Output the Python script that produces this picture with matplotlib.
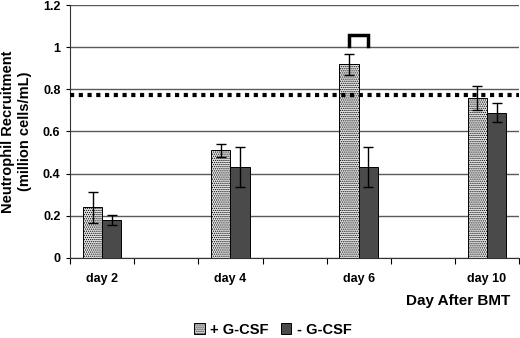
import numpy as np
import matplotlib
matplotlib.use('Agg')
import matplotlib.pyplot as plt
from matplotlib.patches import Patch

plt.rcParams['font.family'] = ['Liberation Sans', 'DejaVu Sans']
plt.rcParams['font.weight'] = 'bold'
plt.rcParams['hatch.linewidth'] = 0.6
plt.rcParams['hatch.color'] = '#a8a8a8'

# data (blank slots between the days, as on the original axis)
categories = ['day 2', '', 'day 4', '', 'day 6', '', 'day 10']
plus_gcsf = [0.24, np.nan, 0.51, np.nan, 0.92, np.nan, 0.76]
plus_err = [0.075, np.nan, 0.032, np.nan, 0.05, np.nan, 0.058]
minus_gcsf = [0.18, np.nan, 0.43, np.nan, 0.43, np.nan, 0.69]
minus_err = [0.025, np.nan, 0.095, np.nan, 0.095, np.nan, 0.043]
baseline = 0.775
bracket_top = 1.06
bracket_bottom = 1.005

fig = plt.figure(figsize=(5.2, 3.38), dpi=100)
ax = fig.add_axes([0.135, 0.237, 0.863, 0.748])

x = np.arange(len(categories))
w = 0.3
light_hatch = '........'

ax.bar(x - w / 2, plus_gcsf, w, color='#e6e6e6', edgecolor='black',
       linewidth=0.7, hatch=light_hatch, zorder=3)
ax.bar(x + w / 2, minus_gcsf, w, color='#4a4a4a', edgecolor='black',
       linewidth=0.7, zorder=3)
ax.errorbar(x - w / 2, plus_gcsf, yerr=plus_err, fmt='none', ecolor='black',
            elinewidth=1, capsize=3.5, capthick=1, zorder=4)
ax.errorbar(x + w / 2, minus_gcsf, yerr=minus_err, fmt='none', ecolor='black',
            elinewidth=1, capsize=3.5, capthick=1, zorder=4)

# normal level line
ax.axhline(baseline, color='black', linewidth=3, linestyle=(0, (1, 1.1)), zorder=5)

# significance bracket over day 6
i6 = categories.index('day 6')
ax.plot([i6 - w / 2, i6 - w / 2, i6 + w / 2, i6 + w / 2],
        [bracket_bottom, bracket_top, bracket_top, bracket_bottom],
        color='black', linewidth=2.5, solid_joinstyle='miter', zorder=5)

ax.set_ylim(0, 1.2)
ax.set_yticks(np.arange(0, 1.21, 0.2))
ax.set_yticklabels(['0', '0.2', '0.4', '0.6', '0.8', '1', '1.2'])
ax.yaxis.grid(True, color='#5a5a5a', linewidth=1)
ax.set_axisbelow(True)

ax.set_xlim(-0.5, len(categories) - 0.5)
ax.set_xticks(np.arange(-0.5, len(categories), 1.0))
ax.set_xticklabels([])
ax.set_xticks(x, minor=True)
ax.set_xticklabels(categories, minor=True)
ax.tick_params(axis='x', which='minor', length=0, pad=11, labelsize=9)
ax.tick_params(axis='x', which='major', length=4, width=0.8, direction='out')
ax.tick_params(axis='y', length=3, width=0.8, labelsize=9, pad=4)

for s in ['top', 'right']:
    ax.spines[s].set_visible(False)
ax.spines['left'].set_color('#333333')
ax.spines['bottom'].set_color('#333333')

ax.set_ylabel('Neutrophil Recruitment\n(million cells/mL)', fontsize=10.5,
              fontweight='bold', labelpad=8, linespacing=1.25)

fig.text(0.981, 0.11, 'Day After BMT', ha='right', va='center',
         fontsize=11, fontweight='bold')

handles = [Patch(facecolor='#e6e6e6', edgecolor='black', hatch=light_hatch, linewidth=0.7),
           Patch(facecolor='#4a4a4a', edgecolor='black', linewidth=0.7)]
fig.legend(handles, ['+ G-CSF', '- G-CSF'], loc='lower center',
           bbox_to_anchor=(0.525, -0.035), ncol=2, frameon=False, fontsize=10.5,
           handlelength=0.7, handleheight=0.7, handletextpad=0.4, columnspacing=0.8)

fig.savefig('out.png', dpi=100)
